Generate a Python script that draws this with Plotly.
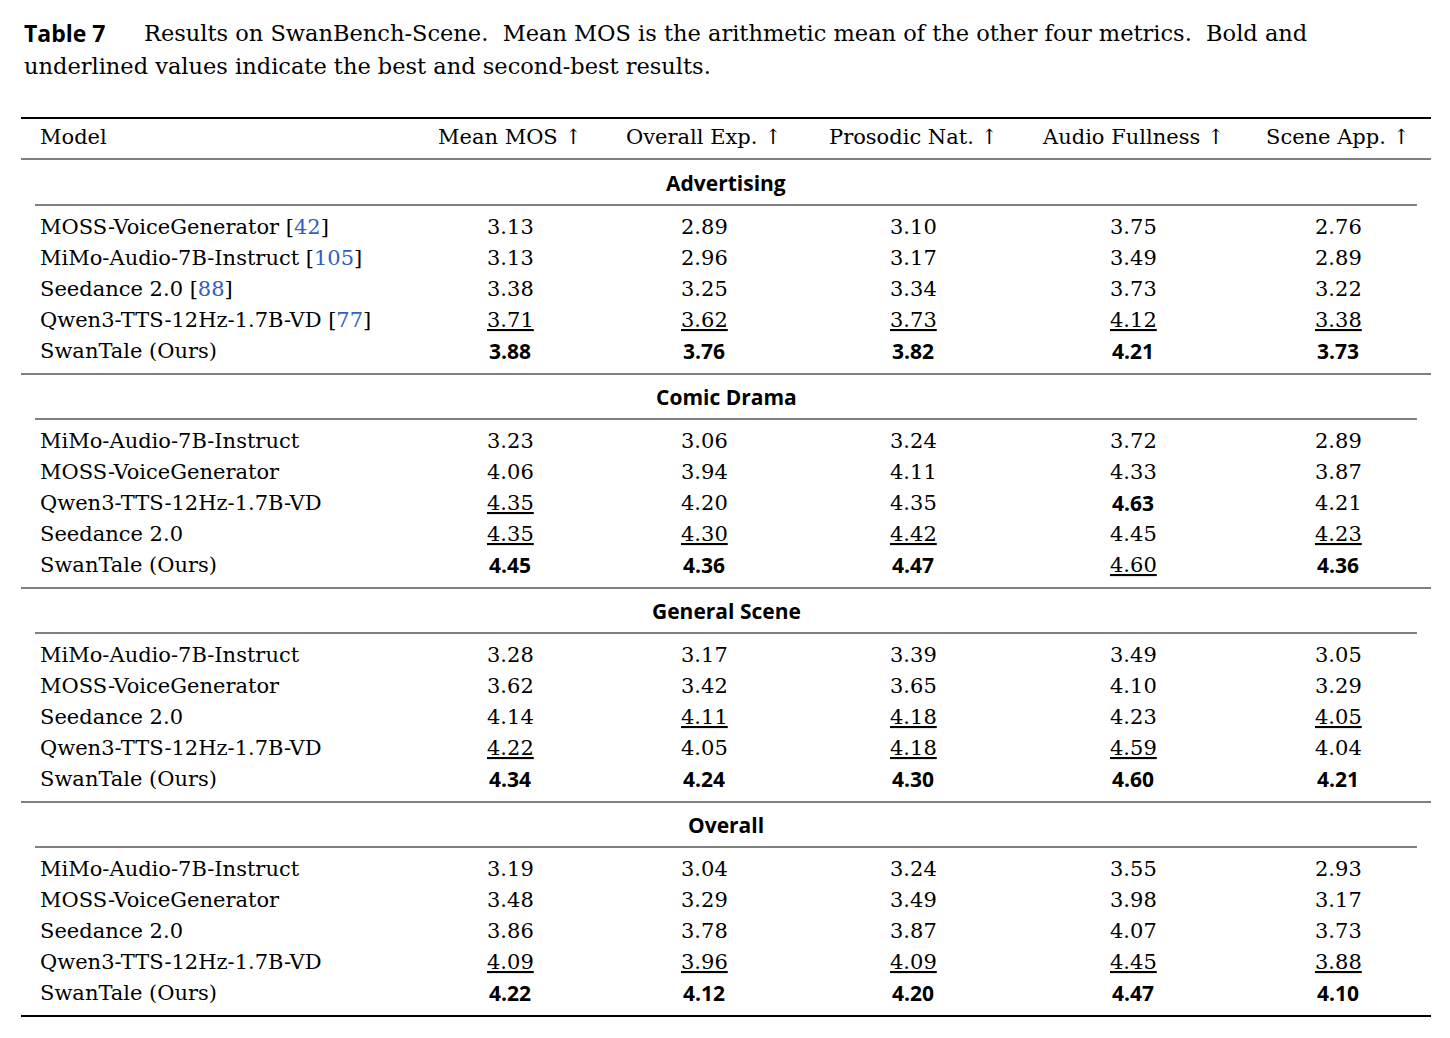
import plotly.graph_objects as go

columns = ["Mean MOS ↑", "Overall Exp. ↑", "Prosodic Nat. ↑", "Audio Fullness ↑", "Scene App. ↑"]
sections = ["Advertising", "Comic Drama", "General Scene", "Overall"]
models = [
    ["MOSS-VoiceGenerator [<span style='color:#3060c0'>42</span>]",
     "MiMo-Audio-7B-Instruct [<span style='color:#3060c0'>105</span>]",
     "Seedance 2.0 [<span style='color:#3060c0'>88</span>]",
     "Qwen3-TTS-12Hz-1.7B-VD [<span style='color:#3060c0'>77</span>]",
     "SwanTale (Ours)"],
    ["MiMo-Audio-7B-Instruct", "MOSS-VoiceGenerator", "Qwen3-TTS-12Hz-1.7B-VD", "Seedance 2.0", "SwanTale (Ours)"],
    ["MiMo-Audio-7B-Instruct", "MOSS-VoiceGenerator", "Seedance 2.0", "Qwen3-TTS-12Hz-1.7B-VD", "SwanTale (Ours)"],
    ["MiMo-Audio-7B-Instruct", "MOSS-VoiceGenerator", "Seedance 2.0", "Qwen3-TTS-12Hz-1.7B-VD", "SwanTale (Ours)"],
]
values = [
    [[3.13, 2.89, 3.10, 3.75, 2.76], [3.13, 2.96, 3.17, 3.49, 2.89], [3.38, 3.25, 3.34, 3.73, 3.22],
     [3.71, 3.62, 3.73, 4.12, 3.38], [3.88, 3.76, 3.82, 4.21, 3.73]],
    [[3.23, 3.06, 3.24, 3.72, 2.89], [4.06, 3.94, 4.11, 4.33, 3.87], [4.35, 4.20, 4.35, 4.63, 4.21],
     [4.35, 4.30, 4.42, 4.45, 4.23], [4.45, 4.36, 4.47, 4.60, 4.36]],
    [[3.28, 3.17, 3.39, 3.49, 3.05], [3.62, 3.42, 3.65, 4.10, 3.29], [4.14, 4.11, 4.18, 4.23, 4.05],
     [4.22, 4.05, 4.18, 4.59, 4.04], [4.34, 4.24, 4.30, 4.60, 4.21]],
    [[3.19, 3.04, 3.24, 3.55, 2.93], [3.48, 3.29, 3.49, 3.98, 3.17], [3.86, 3.78, 3.87, 4.07, 3.73],
     [4.09, 3.96, 4.09, 4.45, 3.88], [4.22, 4.12, 4.20, 4.47, 4.10]],
]
# 1 = bold (best), 2 = underlined (second best), 0 = plain
marks = [
    [[0]*5, [0]*5, [0]*5, [2]*5, [1]*5],
    [[0]*5, [0]*5, [2, 0, 0, 1, 0], [2, 2, 2, 0, 2], [1, 1, 1, 2, 1]],
    [[0]*5, [0]*5, [0, 2, 2, 0, 2], [2, 0, 2, 2, 0], [1]*5],
    [[0]*5, [0]*5, [0]*5, [2]*5, [1]*5],
]
caption1 = "Results on SwanBench-Scene.  Mean MOS is the arithmetic mean of the other four metrics.  Bold and"
caption2 = "underlined values indicate the best and second-best results."

SERIF = "DejaVu Serif, serif"
SANS = "Open Sans, sans-serif"
col_x = [510, 704, 913, 1133, 1338]
ann = []
shapes = []

def text(x, y, s, font, size, anchor="center", bold=False):
    ann.append(dict(x=x, y=y, text=s, showarrow=False, xanchor=anchor, yanchor="middle",
                    font=dict(family=font, size=size, color="black",
                              weight="bold" if bold else "normal")))

def hline(y, x0, x1, w):
    shapes.append(dict(type="line", x0=x0, x1=x1, y0=y, y1=y, line=dict(color="black", width=w)))

text(22, 33, "Table 7", SANS, 23, "left", True)
text(142, 33, caption1, SERIF, 22.5, "left")
text(22, 66, caption2, SERIF, 22.5, "left")

hline(118, 21, 1431, 2)
text(38, 137, "Model", SERIF, 21, "left")
for cx, c in zip(col_x, columns):
    text(cx, 137, c, SERIF, 21)
hline(159, 21, 1431, 1)

y0 = 183
for si, sec in enumerate(sections):
    base = y0 + si * 214
    text(726, base, sec, SANS, 21, "center", True)
    hline(base + 22, 35, 1417, 1)
    for ri in range(5):
        y = base + 44 + ri * 31
        text(38, y, models[si][ri], SERIF, 21, "left")
        for ci in range(5):
            s = f"{values[si][ri][ci]:.2f}"
            m = marks[si][ri][ci]
            if m == 1:
                text(col_x[ci], y, s, SANS, 21, "center", True)
            elif m == 2:
                text(col_x[ci], y, "<u>" + s + "</u>", SERIF, 21)
            else:
                text(col_x[ci], y, s, SERIF, 21)
    hline(base + 191, 21, 1431, 2 if si == 3 else 1)

fig = go.Figure()
fig.update_layout(width=1450, height=1038, margin=dict(l=0, r=0, t=0, b=0),
                  paper_bgcolor="white", plot_bgcolor="white",
                  xaxis=dict(range=[8, 1458], visible=False, fixedrange=True),
                  yaxis=dict(range=[1046, 8], visible=False, fixedrange=True),
                  annotations=ann, shapes=shapes, showlegend=False)
fig.write_html("out.html", config={"displayModeBar": False})
